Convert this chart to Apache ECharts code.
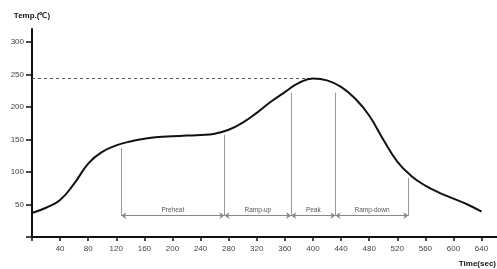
<!DOCTYPE html>
<html>
<head>
<meta charset="utf-8">
<script src="https://cdn.jsdelivr.net/npm/echarts@6/dist/echarts.min.js"></script>
<style>html,body{margin:0;padding:0;background:#fff}#c{width:497px;height:269px}</style>
</head>
<body>
<div id="c"></div>
<script>
// Reflow temperature profile (time sec, temp °C), every 20 s
var curveTime = [0,20,40,60,80,100,120,140,160,180,200,220,240,260,280,300,320,340,360,380,400,420,440,460,480,500,520,540,560,580,600,620,640];
var curveTemp = [37,45,57,82,113,131,141,147,151,154,155,156,157,159,165,176,191,208,223,237,244,241,231,213,187,150,116,94,79,68,59,50,39];
var peakTemp = 244;
var peakTime = 403;
var phaseBounds = [127, 274, 369, 432, 536];
var phaseTops = [137, 157, 222, 222, 91];
var phaseNames = ['Preheat', 'Ramp-up', 'Peak', 'Ramp-down'];
var arrowTemp = 33;
var xTicks = [40,80,120,160,200,240,280,320,360,400,440,480,520,560,600,640];
var yTicks = [50,100,150,200,250,300];

var curve = curveTime.map(function (t, i) { return [t, curveTemp[i]]; });
var vLines = phaseBounds.map(function (b, i) {
  return [{coord: [b, arrowTemp]}, {coord: [b, phaseTops[i]]}];
});
var hLines = phaseNames.map(function (n, i) {
  return [{coord: [phaseBounds[i], arrowTemp], name: n}, {coord: [phaseBounds[i + 1], arrowTemp]}];
});

var chart = echarts.init(document.getElementById('c'));
chart.setOption({
  animation: false,
  grid: {left: 32, right: 0, top: 29, bottom: 32},
  xAxis: {
    type: 'value', min: 0, max: 662, interval: 40,
    axisLine: {lineStyle: {color: '#111', width: 2}},
    axisTick: {length: 4, lineStyle: {color: '#111', width: 1.5}},
    splitLine: {show: false},
    axisLabel: {
      color: '#444', fontSize: 8, fontFamily: 'Liberation Sans', margin: 8,
      showMaxLabel: false,
      formatter: function (v) { return xTicks.indexOf(v) >= 0 ? String(v) : ''; }
    }
  },
  yAxis: {
    type: 'value', min: 0, max: 320, interval: 50,
    name: 'Temp.(℃)', nameLocation: 'end', nameGap: 9,
    nameTextStyle: {color: '#111', fontSize: 8, fontWeight: 'bold', fontFamily: 'Liberation Sans'},
    axisLine: {show: true, lineStyle: {color: '#111', width: 2}},
    axisTick: {show: true, length: 6, lineStyle: {color: '#111', width: 1.5}},
    splitLine: {show: false},
    axisLabel: {
      color: '#444', fontSize: 8, fontFamily: 'Liberation Sans', margin: 8,
      showMaxLabel: false,
      formatter: function (v) { return yTicks.indexOf(v) >= 0 ? String(v) : ''; }
    }
  },
  graphic: [{
    type: 'text', right: 1, bottom: 1,
    style: {text: 'Time(sec)', fill: '#111', font: 'bold 8px "Liberation Sans"'}
  }],
  series: [
    {
      type: 'line', data: curve, smooth: 0.45, symbol: 'none',
      lineStyle: {color: '#111', width: 2},
      z: 5,
      markLine: {
        silent: true, symbol: 'none',
        lineStyle: {color: '#555', type: [3, 3], width: 1},
        label: {show: false},
        data: [[{coord: [0, peakTemp]}, {coord: [peakTime, peakTemp]}]]
      }
    },
    {
      type: 'line', data: [], symbol: 'none',
      markLine: {
        silent: true, symbol: 'none',
        lineStyle: {color: '#9a9a9a', type: 'solid', width: 1},
        label: {show: false},
        data: vLines
      }
    },
    {
      type: 'line', data: [], symbol: 'none',
      markLine: {
        silent: true, symbol: ['arrow', 'arrow'], symbolSize: 5,
        lineStyle: {color: '#888', type: 'solid', width: 1},
        label: {show: true, position: 'middle', formatter: '{b}', color: '#555', fontSize: 6.5, fontFamily: 'Liberation Sans', distance: 2},
        data: hLines
      }
    }
  ]
});
</script>
</body>
</html>
